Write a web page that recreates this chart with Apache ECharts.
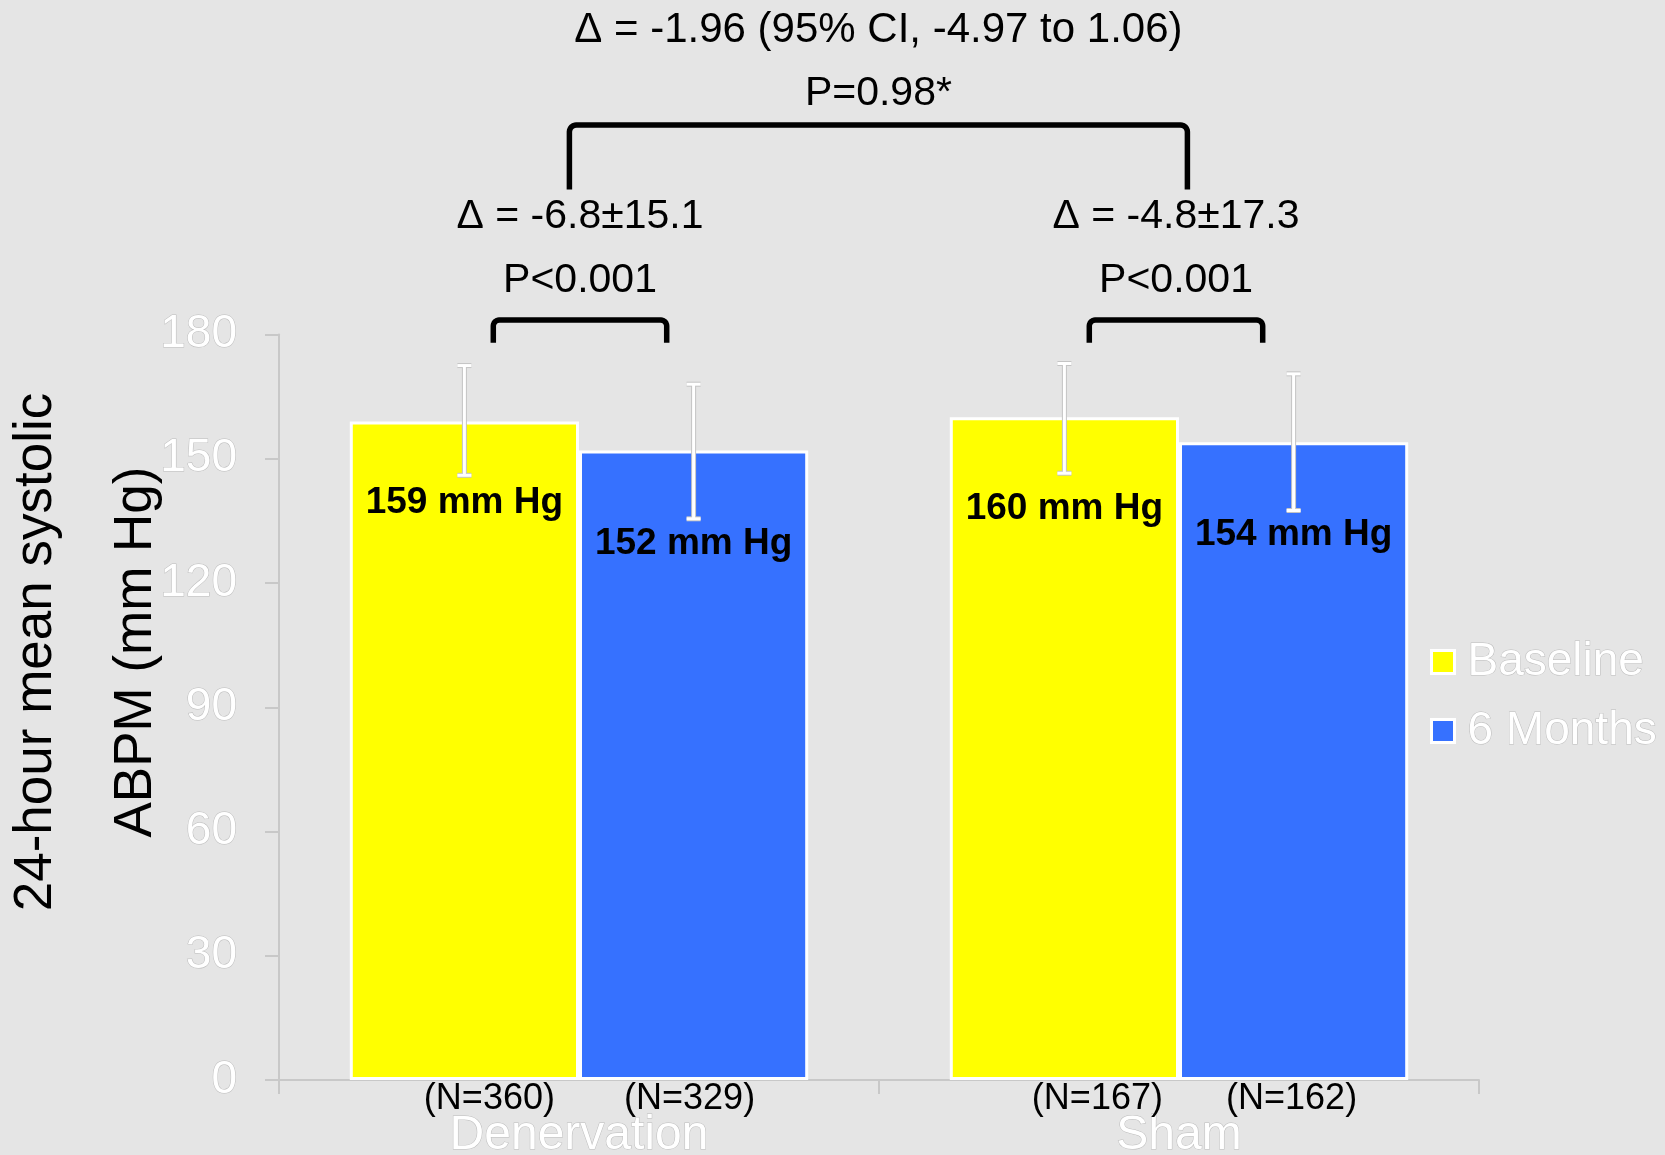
<!DOCTYPE html>
<html><head><meta charset="utf-8">
<script src="https://cdn.jsdelivr.net/npm/echarts@6/dist/echarts.min.js"></script>
<style>html,body{margin:0;padding:0;background:#e5e5e5}#c{width:1665px;height:1155px}</style>
</head><body><div id="c"></div>
<script>
// ---- data ----
const categories = ['Denervation', 'Sham'];
const seriesNames = ['Baseline', '6 Months'];
const baselineMeans = [159, 160];
const sixMonthMeans = [152, 154];
const baselineErrLow = [146, 146.5];
const baselineErrHigh = [172.5, 173];
const sixMonthErrLow = [135.5, 137.5];
const sixMonthErrHigh = [168, 170.5];
const baselineN = ['(N=360)', '(N=167)'];
const sixMonthN = ['(N=329)', '(N=162)'];
const groupDeltas = ['Δ = -6.8±15.1', 'Δ = -4.8±17.3'];
const groupP = ['P<0.001', 'P<0.001'];
const overallDelta = 'Δ = -1.96 (95% CI, -4.97 to 1.06)';
const overallP = 'P=0.98*';
const yAxisTitle = ['24-hour mean systolic', 'ABPM (mm Hg)'];

// ---- layout / style ----
const FF = "'Liberation Sans', Arial, sans-serif";
const BAR_OFF = 0.191; // bar center offset as fraction of category band
const labelDist = [[63, 73], [75, 75]]; // [series][category] label distance from bar top
const nDx = [[25, 33], [-4, -2]];
const groupDx = [1, -3];

function arcPts(cx, cy, r, a0, a1, n) {
  const p = [];
  for (let k = 0; k <= n; k++) {
    const a = a0 + (a1 - a0) * k / n;
    p.push([cx + r * Math.cos(a), cy + r * Math.sin(a)]);
  }
  return p;
}
function bracketPts(x0, x1, yt, yb, r) {
  return [[x0, yb]]
    .concat(arcPts(x0 + r, yt + r, r, Math.PI, 1.5 * Math.PI, 6))
    .concat(arcPts(x1 - r, yt + r, r, 1.5 * Math.PI, 2 * Math.PI, 6))
    .concat([[x1, yb]]);
}

function makeBarData(vals, s) {
  return vals.map((v, i) => ({
    value: v,
    label: { distance: labelDist[s][i] }
  }));
}

function errSeries(name, sign, lows, highs, nLabels, s) {
  return {
    type: 'custom', name: name + ' err', z: 5, clip: false, silent: true,
    data: lows.map((l, i) => [i, l, highs[i]]),
    renderItem: function (params, api) {
      const i = api.value(0);
      const cw = api.size([1, 0])[0];
      const x = api.coord([i, 0])[0] + sign * BAR_OFF * cw;
      const y0 = api.coord([i, 0])[1];
      const yl = api.coord([i, api.value(1)])[1];
      const yh = api.coord([i, api.value(2)])[1];
      const cap = 7;
      const segs = [
        [[x, yl], [x, yh]],
        [[x - cap, yl], [x + cap, yl]],
        [[x - cap, yh], [x + cap, yh]]
      ];
      const children = [];
      segs.forEach(sg => children.push({ type: 'line', shape: { x1: sg[0][0], y1: sg[0][1], x2: sg[1][0], y2: sg[1][1] }, style: { stroke: '#c4c4c4', lineWidth: 5 } }));
      segs.forEach(sg => children.push({ type: 'line', shape: { x1: sg[0][0], y1: sg[0][1], x2: sg[1][0], y2: sg[1][1] }, style: { stroke: '#ffffff', lineWidth: 3 } }));
      children.push({ type: 'text', style: { text: nLabels[i], x: x + nDx[s][i], y: y0 + 19, align: 'center', verticalAlign: 'middle', fontSize: 36, fontFamily: FF, fill: '#000' } });
      return { type: 'group', children: children };
    }
  };
}

const chart = echarts.init(document.getElementById('c'), null, { renderer: 'canvas' });
const option = {
  backgroundColor: '#e5e5e5',
  animation: false,
  grid: { left: 279, right: 186, top: 334.5, bottom: 75, containLabel: false, outerBoundsMode: 'none' },
  legend: {
    orient: 'vertical', left: 1425, top: 632, itemWidth: 23, itemHeight: 23, itemGap: 19,
    icon: 'rect', data: seriesNames,
    itemStyle: { borderColor: '#ffffff', borderWidth: 3 },
    textStyle: { color: '#ffffff', fontSize: 46, fontFamily: FF, lineHeight: 50, padding: [0, 0, 0, 8], textBorderColor: 'rgba(160,160,160,0.6)', textBorderWidth: 1 }
  },
  xAxis: {
    type: 'category', data: categories,
    axisLine: { show: true, lineStyle: { color: '#c8c8c8', width: 2 } },
    axisTick: { show: true, length: 14, alignWithLabel: false, lineStyle: { color: '#c8c8c8', width: 2 } },
    axisLabel: { color: '#ffffff', fontSize: 48, fontFamily: FF, margin: 32, lineHeight: 48, textBorderColor: 'rgba(160,160,160,0.6)', textBorderWidth: 1 }
  },
  yAxis: {
    type: 'value', min: 0, max: 180, interval: 30,
    axisLine: { show: true, lineStyle: { color: '#c8c8c8', width: 2 } },
    axisTick: { show: true, length: 14, lineStyle: { color: '#c8c8c8', width: 2 } },
    splitLine: { show: false },
    axisLabel: { color: '#ffffff', fontSize: 46, fontFamily: FF, margin: 42, textBorderColor: 'rgba(160,160,160,0.6)', textBorderWidth: 1 }
  },
  graphic: [
    { type: 'text', x: 36, y: 652, rotation: Math.PI / 2, style: { text: yAxisTitle[0], align: 'center', verticalAlign: 'middle', fontSize: 53, fontFamily: FF, fill: '#000' } },
    { type: 'text', x: 136, y: 652, rotation: Math.PI / 2, style: { text: yAxisTitle[1], align: 'center', verticalAlign: 'middle', fontSize: 53, fontFamily: FF, fill: '#000' } }
  ],
  series: [
    {
      type: 'bar', name: seriesNames[0], data: makeBarData(baselineMeans, 0),
      barGap: '0%', barCategoryGap: '23.6%',
      itemStyle: { color: '#ffff00', borderColor: '#ffffff', borderWidth: 3 },
      label: { show: true, position: 'insideTop', formatter: '{c} mm Hg', color: '#000', fontSize: 37, fontWeight: 'bold', fontFamily: FF, lineHeight: 36 }
    },
    {
      type: 'bar', name: seriesNames[1], data: makeBarData(sixMonthMeans, 1),
      barGap: '0%', barCategoryGap: '23.6%',
      itemStyle: { color: '#3671ff', borderColor: '#ffffff', borderWidth: 3 },
      label: { show: true, position: 'insideTop', formatter: '{c} mm Hg', color: '#000', fontSize: 37, fontWeight: 'bold', fontFamily: FF, lineHeight: 36 }
    },
    errSeries(seriesNames[0], -1, baselineErrLow, baselineErrHigh, baselineN, 0),
    errSeries(seriesNames[1], 1, sixMonthErrLow, sixMonthErrHigh, sixMonthN, 1),
    {
      type: 'custom', name: 'group annotations', z: 6, clip: false, silent: true,
      data: categories.map((c, i) => [i]),
      renderItem: function (params, api) {
        const i = api.value(0);
        const cw = api.size([1, 0])[0];
        const xc = api.coord([i, 0])[0] + groupDx[i];
        const yt = api.coord([i, 183.5])[1];
        const yb = api.coord([i, 178])[1];
        const half = 0.1445 * cw;
        return {
          type: 'group', children: [
            { type: 'polyline', shape: { points: bracketPts(xc - half, xc + half, yt, yb, 6) }, style: { stroke: '#000', lineWidth: 5.5, fill: null, lineJoin: 'round' } },
            { type: 'text', style: { text: groupDeltas[i], x: xc, y: api.coord([i, 208.4])[1], align: 'center', verticalAlign: 'middle', fontSize: 41, fontFamily: FF, fill: '#000' } },
            { type: 'text', style: { text: groupP[i], x: xc, y: api.coord([i, 192.9])[1], align: 'center', verticalAlign: 'middle', fontSize: 41, fontFamily: FF, fill: '#000' } }
          ]
        };
      }
    },
    {
      type: 'custom', name: 'overall annotation', z: 6, clip: false, silent: true,
      data: [[0, 1]],
      renderItem: function (params, api) {
        const cw = api.size([1, 0])[0];
        const x0 = api.coord([api.value(0), 0])[0] - 0.016 * cw;
        const x1 = api.coord([api.value(1), 0])[0] + 0.014 * cw;
        const yt = api.coord([0, 230.6])[1];
        const yb = api.coord([0, 215])[1];
        const xm = (x0 + x1) / 2;
        return {
          type: 'group', children: [
            { type: 'polyline', shape: { points: bracketPts(x0, x1, yt, yb, 7) }, style: { stroke: '#000', lineWidth: 5.5, fill: null, lineJoin: 'round' } },
            { type: 'text', style: { text: overallDelta, x: xm, y: api.coord([0, 253.5])[1], align: 'center', verticalAlign: 'middle', fontSize: 42, fontFamily: FF, fill: '#000' } },
            { type: 'text', style: { text: overallP, x: xm, y: api.coord([0, 238.2])[1], align: 'center', verticalAlign: 'middle', fontSize: 41, fontFamily: FF, fill: '#000' } }
          ]
        };
      }
    }
  ]
};
chart.setOption(option);
</script>
</body></html>
